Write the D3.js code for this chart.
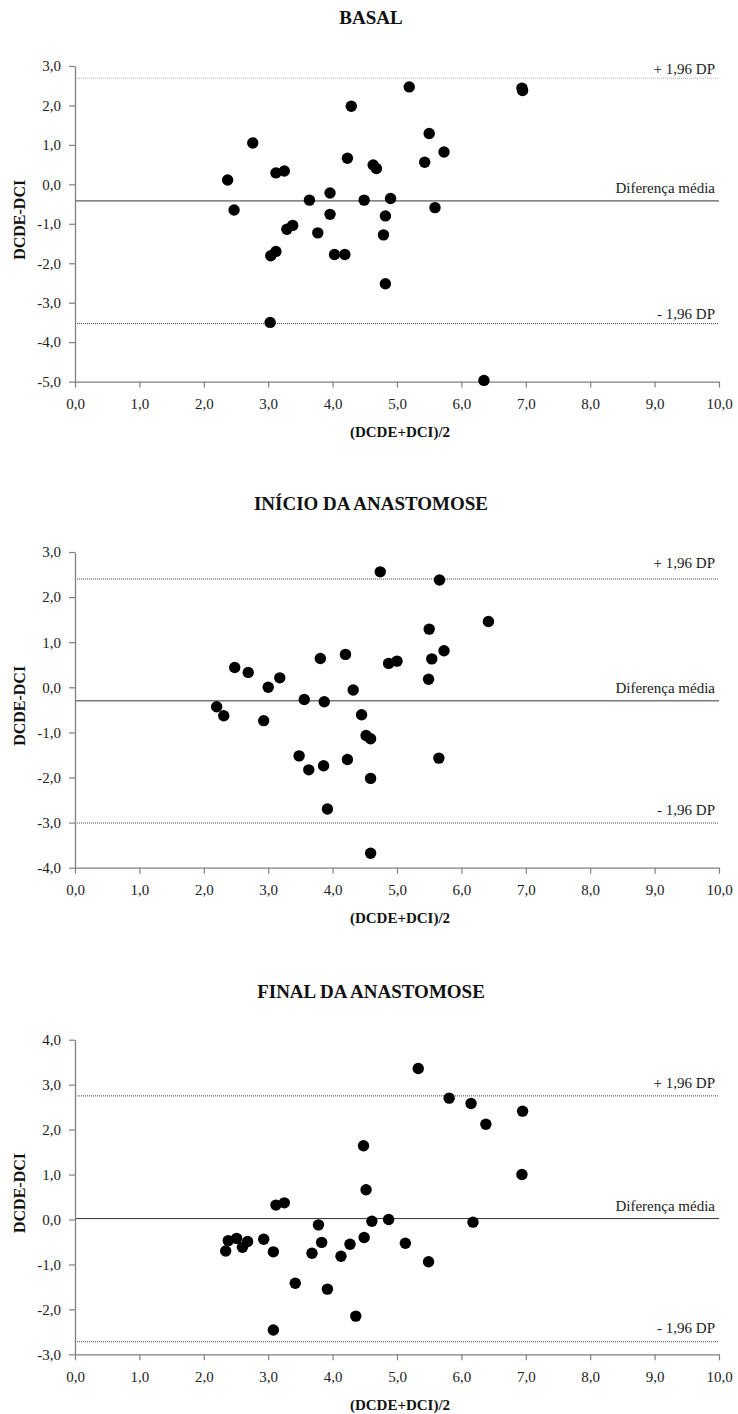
<!DOCTYPE html>
<html>
<head>
<meta charset="utf-8">
<script src="https://cdn.jsdelivr.net/npm/d3@7"></script>
<style>
  body { margin: 0; background: #fff; }
  text { font-family: "Liberation Serif", "Times New Roman", serif; }
</style>
</head>
<body>
<div id="chart"></div>
<script>
// data
var titles = ["BASAL", "INÍCIO DA ANASTOMOSE", "FINAL DA ANASTOMOSE"];

var basalX = [2.37, 2.76, 3.12, 3.25, 4.29, 4.23, 4.63, 4.68, 3.64, 3.96, 4.49, 5.19, 6.94, 6.95, 5.50, 5.73, 5.43,
              4.90, 2.47, 3.96, 3.29, 3.38, 3.77, 3.04, 3.12, 4.03, 4.19, 3.03, 5.59, 4.82, 4.79, 4.82, 6.35];
var basalY = [0.11, 1.05, 0.29, 0.34, 1.98, 0.66, 0.49, 0.40, -0.40, -0.22, -0.40, 2.47, 2.44, 2.38, 1.29, 0.82, 0.56,
              -0.36, -0.65, -0.76, -1.14, -1.04, -1.23, -1.81, -1.70, -1.78, -1.78, -3.50, -0.59, -0.80, -1.28, -2.52, -4.97];

var inicioX = [2.48, 2.69, 3.00, 3.18, 3.81, 4.20, 4.32, 3.56, 3.87, 4.74, 5.66, 6.42, 5.50, 5.73, 5.54, 4.87,
               5.00, 5.49, 2.20, 2.31, 2.93, 4.45, 4.52, 4.59, 3.48, 3.63, 3.86, 4.23, 4.59, 3.92, 4.59, 5.65];
var inicioY = [0.44, 0.33, 0.00, 0.21, 0.64, 0.73, -0.06, -0.27, -0.32, 2.56, 2.38, 1.46, 1.29, 0.81, 0.63, 0.53,
               0.58, 0.18, -0.43, -0.63, -0.74, -0.61, -1.07, -1.14, -1.52, -1.83, -1.74, -1.60, -2.02, -2.70, -3.68, -1.57];

var finalX = [4.48, 4.52, 5.33, 5.81, 6.15, 6.95, 6.38, 6.94, 3.12, 3.25, 4.61, 3.78, 2.34, 2.38, 2.51, 2.60,
              2.68, 2.93, 3.08, 3.68, 3.83, 4.13, 4.27, 4.49, 3.42, 3.92, 4.36, 3.08, 4.87, 6.18, 5.13, 5.49];
var finalY = [1.64, 0.66, 3.36, 2.70, 2.58, 2.41, 2.12, 1.00, 0.32, 0.37, -0.04, -0.12, -0.70, -0.47, -0.42, -0.62,
              -0.49, -0.44, -0.72, -0.75, -0.51, -0.82, -0.55, -0.40, -1.42, -1.55, -2.15, -2.46, 0.00, -0.06, -0.53, -0.94];

var meanDiff = [-0.42, -0.30, 0.02];
var upperLoA = [2.69, 2.40, 2.75];
var lowerLoA = [-3.53, -3.01, -2.72];
var lineLabels = ["+ 1,96 DP", "Diferença média", "- 1,96 DP"];

var yDomains = [[-5, 3], [-4, 3], [-3, 4]];
var xTicks = [0, 1, 2, 3, 4, 5, 6, 7, 8, 9, 10];
var xLabel = "(DCDE+DCI)/2";
var yLabel = "DCDE-DCI";

var pointsX = [basalX, inicioX, finalX];
var pointsY = [basalY, inicioY, finalY];

function BlandAltman() {
    var W = 738, H = 1414;
    var left = 75, right = 719;
    var panelTop = [66, 552, 1039.7];
    var panelBottom = [381.6, 867.7, 1354.3];
    var labelDy = [[4.5, 8, 5], [11, 8, 8], [7.5, 8, 8.5]];
    var topLineColor = ["#b0b0b0", "#444", "#444"];

    var ptBR = d3.formatLocale({decimal: ",", thousands: ".", grouping: [3], currency: ["R$", ""], minus: "-"});
    var fmt = ptBR.format(".1f");

    var svg = d3.select("#chart")
                .append("svg")
                .attr("width", W)
                .attr("height", H);

    var x = d3.scaleLinear()
              .domain([0, 10])
              .range([left, right]);

    for (var p = 0; p < 3; p++) {
        var pTop = panelTop[p], pBottom = panelBottom[p];
        var y = d3.scaleLinear()
                  .domain(yDomains[p])
                  .range([pBottom, pTop]);
        var g = svg.append("g");

        // title
        g.append("text")
            .attr("x", 371)
            .attr("y", pTop - 42)
            .attr("text-anchor", "middle")
            .attr("font-size", 19)
            .attr("font-weight", "bold")
            .attr("fill", "#111")
            .text(titles[p]);

        // reference lines
        var refs = [upperLoA[p], meanDiff[p], lowerLoA[p]];
        for (var i = 0; i < refs.length; i++) {
            g.append("line")
                .attr("x1", left).attr("x2", right)
                .attr("y1", y(refs[i])).attr("y2", y(refs[i]))
                .attr("stroke", i == 1 ? "#333" : (i == 0 ? topLineColor[p] : "#444"))
                .attr("stroke-width", 1)
                .attr("stroke-dasharray", i == 1 ? null : "1,1");
            g.append("text")
                .attr("x", 715)
                .attr("y", y(refs[i]) - labelDy[p][i])
                .attr("text-anchor", "end")
                .attr("font-size", 15)
                .attr("fill", "#222")
                .text(lineLabels[i]);
        }

        // axes
        var yAxis = d3.axisLeft(y)
                      .tickValues(d3.range(yDomains[p][0], yDomains[p][1] + 1))
                      .tickFormat(fmt)
                      .tickSize(6)
                      .tickPadding(8)
                      .tickSizeOuter(0);
        var xAxis = d3.axisBottom(x)
                      .tickValues(xTicks)
                      .tickFormat(fmt)
                      .tickSize(6)
                      .tickPadding(11)
                      .tickSizeOuter(0);

        var ya = g.append("g")
            .attr("transform", "translate(" + left + ",0)")
            .call(yAxis);
        var xa = g.append("g")
            .attr("transform", "translate(0," + pBottom + ")")
            .call(xAxis);

        [ya, xa].forEach(function(a) {
            a.select(".domain").attr("stroke", "#808080").attr("stroke-width", 1.3);
            a.selectAll(".tick line").attr("stroke", "#808080").attr("stroke-width", 1.2);
            a.selectAll(".tick text")
                .attr("font-family", "Liberation Serif, Times New Roman, serif")
                .attr("font-size", 15)
                .attr("fill", "#222");
        });

        // axis titles
        g.append("text")
            .attr("x", 400)
            .attr("y", pBottom + 55.5)
            .attr("text-anchor", "middle")
            .attr("font-size", 15)
            .attr("font-weight", "bold")
            .attr("fill", "#111")
            .text(xLabel);

        g.append("text")
            .attr("transform", "translate(25," + ((pTop + pBottom) / 2 - 4) + ") rotate(-90)")
            .attr("text-anchor", "middle")
            .attr("font-size", 16)
            .attr("font-weight", "bold")
            .attr("fill", "#111")
            .text(yLabel);

        // points
        var xs = pointsX[p], ys = pointsY[p];
        g.selectAll("circle")
            .data(d3.range(xs.length))
            .enter()
            .append("circle")
            .attr("cx", function(k) { return x(xs[k]); })
            .attr("cy", function(k) { return y(ys[k]); })
            .attr("r", 5.7)
            .attr("fill", "#000");
    }
}

window.onload = BlandAltman;
</script>
</body>
</html>
